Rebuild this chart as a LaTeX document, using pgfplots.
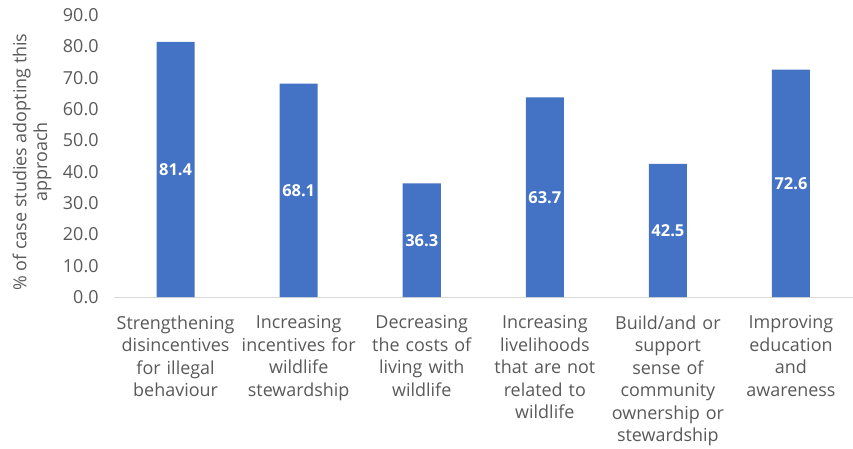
\documentclass[border=0pt]{standalone}
\usepackage{pgfplots}
\pgfplotsset{compat=1.18}
\usetikzlibrary{calc}
\usepackage{fontspec}
\setmainfont{Open Sans}
\definecolor{barblue}{HTML}{4472C4}
\definecolor{txtgray}{HTML}{595959}
\definecolor{axgray}{HTML}{D9D9D9}
\begin{document}
\begin{tikzpicture}
\begin{axis}[
  scale only axis,
  width=738bp, height=282bp,
  xmin=-0.5, xmax=5.5,
  ymin=0, ymax=90,
  ytick={0,10,...,90},
  xtick={0,1,2,3,4,5},
  xticklabels={
    {Strengthening\\disincentives\\for illegal\\behaviour},
    {Increasing\\incentives for\\wildlife\\stewardship},
    {Decreasing\\the costs of\\living with\\wildlife},
    {Increasing\\livelihoods\\that are not\\related to\\wildlife},
    {Build/and or\\support\\sense of\\community\\ownership or\\stewardship},
    {Improving\\education\\and\\awareness}},
  axis lines*=left,
  x axis line style={draw=axgray, line width=0.8bp},
  y axis line style={draw=none},
  major tick length=0pt,
  yticklabel style={font=\fontsize{18}{20}\selectfont, text=txtgray, anchor=east, xshift=-12bp},
  xticklabel style={font=\fontsize{18}{22.6}\selectfont, text=txtgray, align=center, text width=130bp, anchor=north, yshift=-15bp},
  /pgf/number format/assume math mode=true,
  yticklabel={\pgfmathprintnumber[fixed, fixed zerofill, precision=1]{\tick}},
  clip=false,
]
\addplot[ybar, bar width=38bp, fill=barblue, draw=none] coordinates {
  (0,81.4) (1,68.1) (2,36.3) (3,63.7) (4,42.5) (5,72.6)};
\addplot[draw=none, mark=none, nodes near coords, nodes near coords align=center,
  point meta=explicit symbolic,
  every node near coord/.style={font=\bfseries\fontsize{16.5}{18}\selectfont, text=white, anchor=center}]
  coordinates {
  (0,40.7) [81.4] (1,34.05) [68.1] (2,18.15) [36.3] (3,31.85) [63.7] (4,21.25) [42.5] (5,36.3) [72.6]};
\coordinate (bl) at (rel axis cs:0,0);
\coordinate (tr) at (rel axis cs:1,1);
\end{axis}
\path let \p1=(bl), \p2=(tr) in node[rotate=90, align=center, text=txtgray, font=\fontsize{18}{21}\selectfont] at (\x1-82bp, {(\y1+\y2)/2-6bp}) {\% of case studies adopting this\\approach};
\pgfresetboundingbox
\path[use as bounding box] ([xshift=-114bp, yshift=-151bp]bl) rectangle ([xshift=0.5bp, yshift=15bp]tr);
\end{tikzpicture}
\end{document}
